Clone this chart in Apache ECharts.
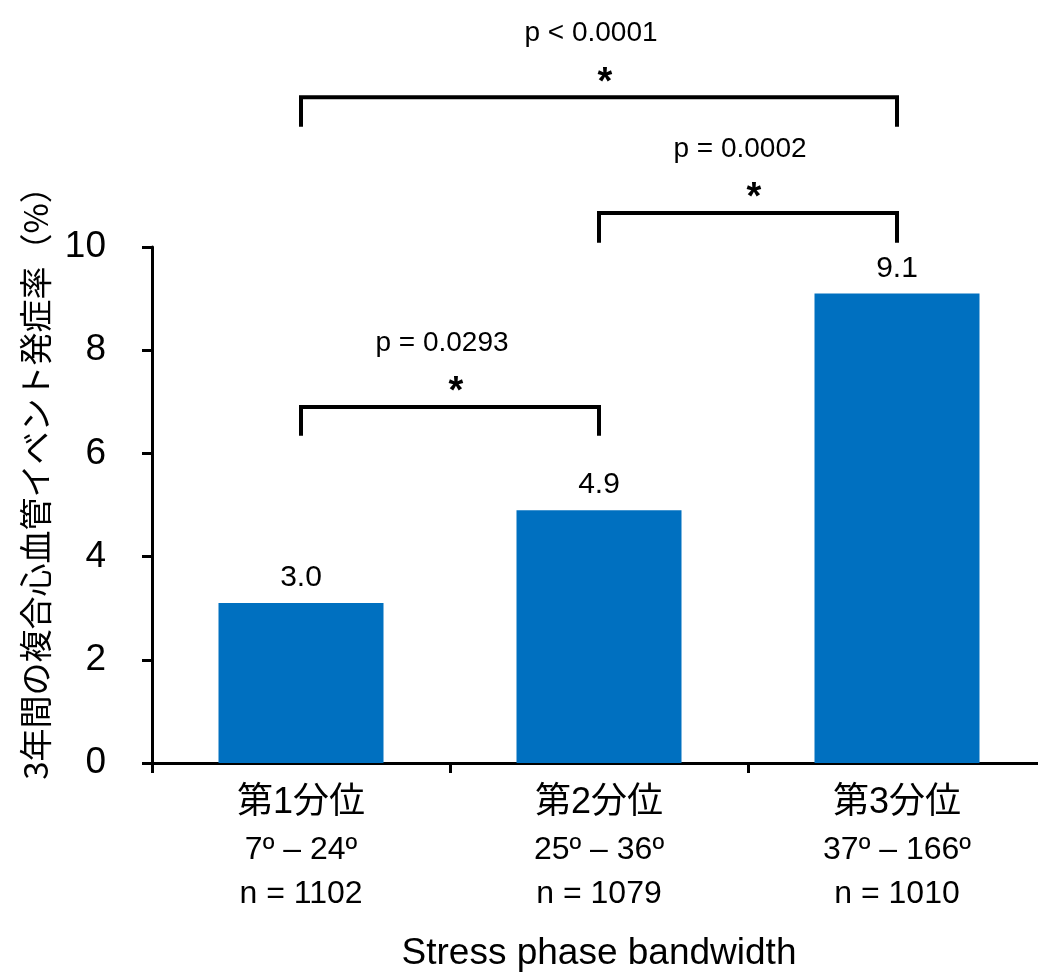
<!DOCTYPE html>
<html>
<head>
<meta charset="utf-8">
<script src="https://cdn.jsdelivr.net/npm/echarts@6/dist/echarts.min.js"></script>
<style>
  html, body { margin: 0; padding: 0; background: #fff; }
  #chart { width: 1038px; height: 975px; }
</style>
</head>
<body>
<div id="chart"></div>
<script>
// データ
var categories = ['第1分位', '第2分位', '第3分位'];
var ranges = ['7º – 24º', '25º – 36º', '37º – 166º'];
var counts = ['n = 1102', 'n = 1079', 'n = 1010'];
var rates = [3.1, 4.9, 9.1];
var rateLabels = ['3.0', '4.9', '9.1'];
var yTicks = [0, 2, 4, 6, 8, 10];
// 有意差ブラケット: [開始カテゴリ, 終了カテゴリ, 横線の高さ, 脚の下端]
var brackets = [
  [0, 2, 12.9, 12.33],
  [1, 2, 10.66, 10.08],
  [0, 1, 6.9, 6.34]
];
var pValues = ['p < 0.0001', 'p = 0.0002', 'p = 0.0293'];

var FONT = '"Liberation Sans", "Noto Sans CJK JP", sans-serif';

var myChart = echarts.init(document.getElementById('chart'));

myChart.setOption({
  animation: false,
  textStyle: { fontFamily: FONT, color: '#000' },
  grid: {
    left: 152,
    top: 247,
    width: 894,
    height: 516,
    outerBoundsMode: 'none'
  },
  graphic: [{
    type: 'text',
    x: 35,
    y: 475,
    rotation: Math.PI / 2,
    style: {
      text: '3年間の複合心血管イベント発症率（%）',
      font: '33px "Noto Sans CJK JP", "Liberation Sans", sans-serif',
      fill: '#000',
      align: 'center',
      verticalAlign: 'middle'
    }
  }],
  xAxis: {
    type: 'category',
    data: categories,
    name: 'Stress phase bandwidth',
    nameLocation: 'middle',
    nameGap: 172,
    nameTextStyle: { fontSize: 37, color: '#000', fontFamily: FONT },
    axisLine: { lineStyle: { color: '#000', width: 3 } },
    axisTick: { show: true, length: 10, lineStyle: { color: '#000', width: 3 } },
    axisLabel: {
      margin: 16,
      interval: 0,
      color: '#000',
      formatter: function (value, index) {
        return '{a|' + value + '}\n{b|' + ranges[index] + '}\n{c|' + counts[index] + '}';
      },
      rich: {
        a: { fontSize: 36, lineHeight: 48, fontFamily: FONT, color: '#000' },
        b: { fontSize: 32, lineHeight: 46, fontFamily: FONT, color: '#000' },
        c: { fontSize: 32, lineHeight: 42, fontFamily: FONT, color: '#000' }
      }
    }
  },
  yAxis: {
    type: 'value',
    min: 0,
    max: 10,
    interval: 2,
    splitLine: { show: false },
    axisLine: { show: true, lineStyle: { color: '#000', width: 3 } },
    axisTick: { show: true, length: 10, lineStyle: { color: '#000', width: 3 } },
    axisLabel: {
      margin: 46,
      fontSize: 37,
      color: '#000',
      formatter: function (v) { return yTicks.indexOf(v) >= 0 ? String(v) : ''; }
    }
  },
  series: [{
    type: 'bar',
    data: rates,
    barWidth: 165,
    itemStyle: { color: '#0070C0' },
    label: {
      show: true,
      position: 'top',
      distance: 10,
      fontSize: 30,
      color: '#000',
      formatter: function (p) { return rateLabels[p.dataIndex]; }
    }
  }, {
    type: 'custom',
    clip: false,
    data: brackets,
    encode: { x: [0, 1], y: [2, 3] },
    renderItem: function (params, api) {
      var top1 = api.coord([api.value(0), api.value(2)]);
      var top2 = api.coord([api.value(1), api.value(2)]);
      var leg = api.coord([api.value(0), api.value(3)]);
      var mid = (top1[0] + top2[0]) / 2;
      return {
        type: 'group',
        children: [{
          type: 'polyline',
          shape: { points: [[top1[0], leg[1]], top1, top2, [top2[0], leg[1]]] },
          style: { stroke: '#000', lineWidth: 4, fill: null }
        }, {
          type: 'text',
          x: mid - 8,
          y: top1[1] - 64,
          style: {
            text: pValues[params.dataIndex],
            font: '28px "Liberation Sans", sans-serif',
            fill: '#000',
            align: 'center',
            verticalAlign: 'middle'
          }
        }, {
          type: 'text',
          x: mid + 6,
          y: top1[1] - 14,
          style: {
            text: '*',
            font: 'bold 38px "Liberation Sans", sans-serif',
            fill: '#000',
            align: 'center',
            verticalAlign: 'middle'
          }
        }]
      };
    }
  }]
});
</script>
</body>
</html>
